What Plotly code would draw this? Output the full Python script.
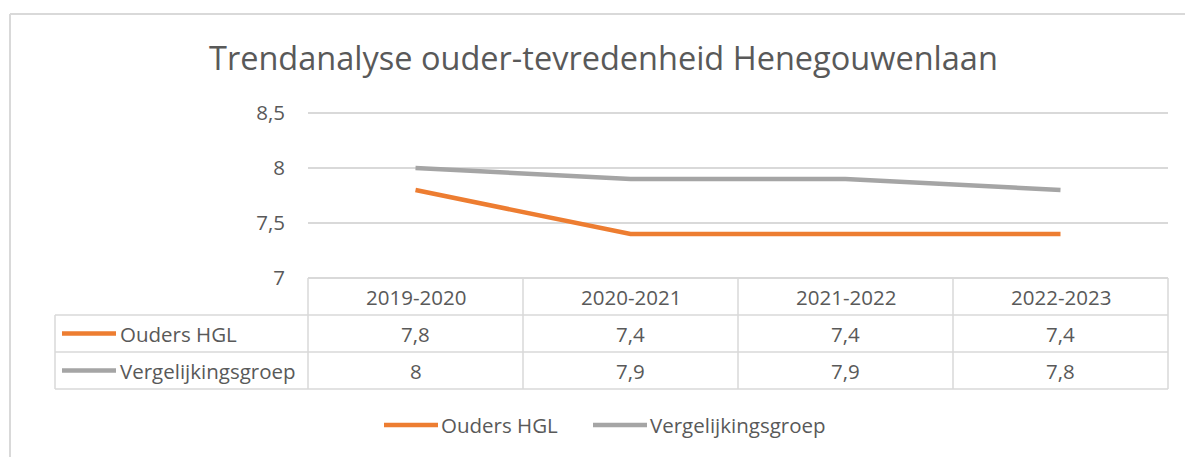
import plotly.graph_objects as go

categories = ["2019-2020", "2020-2021", "2021-2022", "2022-2023"]
series_names = ["Ouders HGL", "Vergelijkingsgroep"]
ouders_hgl = [7.8, 7.4, 7.4, 7.4]
vergelijkingsgroep = [8.0, 7.9, 7.9, 7.8]
y_ticks = [7, 7.5, 8, 8.5]
y_tick_labels = ["7", "7,5", "8", "8,5"]
title_text = "Trendanalyse ouder-tevredenheid Henegouwenlaan"

W, H = 1185, 457
COLORS = ["#ED7D31", "#A5A5A5"]
GRID = "#D9D9D9"
TXT = "#595959"
FONT = "Open Sans"
FS = 20.5

def px(x):
    return x / W

def py(y):
    return 1 - y / H

def fmt(v):
    s = ("%g" % v)
    return s.replace(".", ",")

# plot area in pixels (value 7 at y=278, 8.5 at y=113 -> 110 px per unit)
PL, PR = 308, 1168
Y7, PPU = 278, 110.0
R0, R1 = 6.98, 8.52
PT = Y7 - (R1 - 7) * PPU
PB = Y7 + (7 - R0) * PPU

fig = go.Figure()
for name, vals, col in zip(series_names, [ouders_hgl, vergelijkingsgroep], COLORS):
    fig.add_trace(go.Scatter(
        x=categories, y=vals, name=name, mode="lines",
        line=dict(color=col, width=4.5), showlegend=False,
        cliponaxis=False,
    ))

shapes = []
annotations = []

def hline(x0, x1, y, color=GRID, w=1.5):
    shapes.append(dict(type="line", xref="paper", yref="paper",
                       x0=px(x0), x1=px(x1), y0=py(y), y1=py(y),
                       line=dict(color=color, width=w), layer="below"))

def vline(x, y0, y1, color=GRID, w=1.5):
    shapes.append(dict(type="line", xref="paper", yref="paper",
                       x0=px(x), x1=px(x), y0=py(y0), y1=py(y1),
                       line=dict(color=color, width=w), layer="below"))

def label(x, y, text, xref="paper", xanchor="center", size=FS):
    annotations.append(dict(x=x, xref=xref, y=py(y), yref="paper",
                            text=text, showarrow=False,
                            xanchor=xanchor, yanchor="middle",
                            font=dict(family=FONT, size=size, color=TXT)))

# outer chart border
hline(10, W, 14, "#D9D9D9", 2)
vline(10, 14, H, "#D9D9D9", 2)

# data table
ROW_H = 37
TL = 55
hline(PL, PR, Y7)
for i in range(1, 4):
    hline(TL, PR, Y7 + i * ROW_H)
vline(TL, Y7 + ROW_H, Y7 + 3 * ROW_H)
colw = (PR - PL) / len(categories)
for i in range(len(categories) + 1):
    vline(PL + i * colw, Y7, Y7 + 3 * ROW_H)

# header row
for c in categories:
    label(c, Y7 + ROW_H / 2, c, xref="x")
# value rows with legend keys
for r, (name, vals, col) in enumerate(zip(series_names, [ouders_hgl, vergelijkingsgroep], COLORS)):
    yc = Y7 + ROW_H * (r + 1.5)
    shapes.append(dict(type="line", xref="paper", yref="paper",
                       x0=px(62), x1=px(116), y0=py(yc), y1=py(yc),
                       line=dict(color=col, width=4.5)))
    label(px(118), yc, name, xanchor="left")
    for c, v in zip(categories, vals):
        label(c, yc, fmt(v), xref="x")

# bottom legend
LEG_Y = 425
leg_pos = [(384, 438), (593, 647)]
for (x0, x1), name, col in zip(leg_pos, series_names, COLORS):
    shapes.append(dict(type="line", xref="paper", yref="paper",
                       x0=px(x0), x1=px(x1), y0=py(LEG_Y), y1=py(LEG_Y),
                       line=dict(color=col, width=4.5)))
    label(px(x1 + 1), LEG_Y, name, xanchor="left")

# title
label(px(603), 58, title_text, size=32.5)

fig.update_layout(
    width=W, height=H,
    margin=dict(l=0, r=0, t=0, b=0, pad=0, autoexpand=False),
    paper_bgcolor="white", plot_bgcolor="white",
    separators=",.",
    showlegend=False,
    shapes=shapes, annotations=annotations,
    xaxis=dict(domain=[px(PL), px(PR)], range=[-0.5, 3.5], type="category",
               showgrid=False, showticklabels=False, zeroline=False,
               showline=False, fixedrange=True, automargin=False),
    yaxis=dict(domain=[py(PB), py(PT)], range=[R0, R1],
               tickvals=y_ticks, ticktext=y_tick_labels,
               showgrid=True, gridcolor=GRID, gridwidth=1.5,
               zeroline=False, showline=False, ticks="", ticklabelstandoff=22,
               automargin=False,
               tickfont=dict(family=FONT, size=FS, color=TXT), fixedrange=True),
)

fig.write_html("out.html", config={"displayModeBar": False},
               post_script="document.body.style.margin='0';")
